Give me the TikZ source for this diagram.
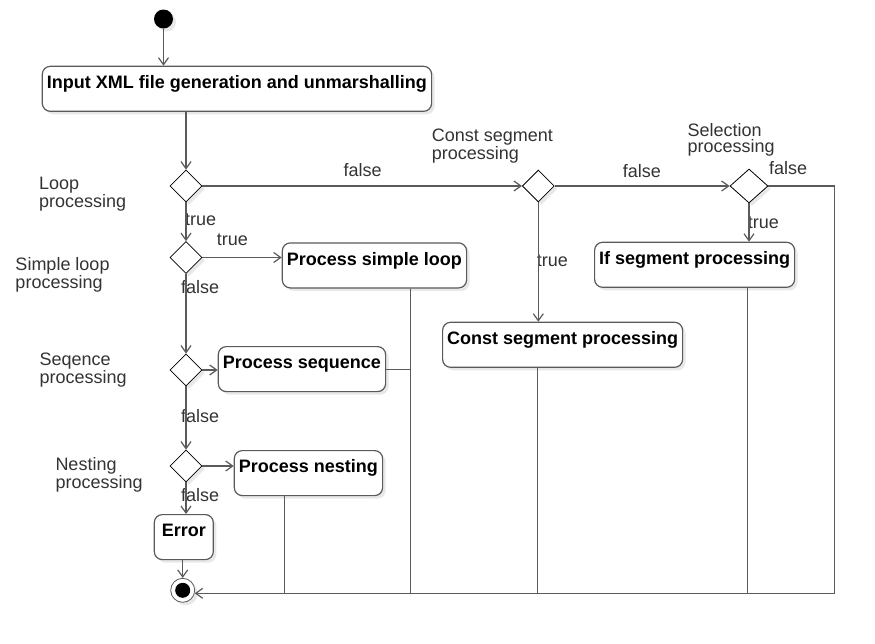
\documentclass[tikz,border=0pt]{standalone}
\usepackage{fontspec}
\setmainfont{Liberation Sans}
\usetikzlibrary{arrows.meta,shapes.geometric,shadows}
\definecolor{ln}{HTML}{5A5A5A}
\definecolor{tx}{HTML}{333333}
\begin{document}
\begin{tikzpicture}[x=1pt,y=-1pt,
  shd/.style={drop shadow={shadow xshift=3pt,shadow yshift=-3pt,fill=black!9,opacity=1}},
  box/.style={draw=ln,line width=1.2pt,rounded corners=8pt,fill=white,shd,
    font=\fontsize{18}{20}\selectfont\bfseries,inner xsep=0pt,inner ysep=0pt,
    text height=22.3pt,text depth=22.7pt,anchor=north west},
  dec/.style={diamond,draw=black,line width=0.8pt,fill=white,inner sep=0pt,
    minimum width=32pt,minimum height=32pt,shd},
  lbl/.style={text=tx,align=left,anchor=base west,inner sep=0pt,
    font=\fontsize{18}{16}\selectfont},
  flow/.style={draw=ln,line width=1.2pt},
  arr/.style={flow,-{Straight Barb[length=7pt,width=10pt]}}
]
\useasboundingbox (0,0) rectangle (875,643);

% start / end
\node[circle,fill=black,minimum size=19pt,inner sep=0pt,shd] (start) at (163.5,19) {};
\node[circle,draw=ln,line width=0.8pt,fill=white,minimum size=24pt,inner sep=0pt,shd] (final) at (182.7,590.3) {};
\node[circle,fill=black,minimum size=15pt,inner sep=0pt] (finaldot) at (final) {};

% boxes
\node[box,minimum width=389.3pt] (in) at (41.7,65.7) {Input XML file generation and unmarshalling};
\node[box,minimum width=184.3pt] (sl) at (281.7,242.3) {Process simple loop};
\node[box,minimum width=167.3pt] (seq) at (217.7,346) {Process sequence};
\node[box,minimum width=148.3pt] (nest) at (233.7,450) {Process nesting};
\node[box,minimum width=59pt] (err) at (153.7,514) {Error};
\node[box,minimum width=240pt] (cb) at (442,321.7) {Const segment processing};
\node[box,minimum width=200pt] (ifb) at (594,241.7) {If segment processing};

% decisions
\node[dec] (d1) at (186,186) {};
\node[dec] (d4) at (186,257.5) {};
\node[dec] (d5) at (186,370) {};
\node[dec] (d6) at (186,466) {};
\node[dec] (d2) at (538.3,186) {};
\node[dec,minimum width=38pt,minimum height=34pt] (d3) at (749,186) {};

% side labels (anchor = baseline of last line)
\node[lbl] (l1) at (39,207.7) {Loop\\processing};
\node[lbl] (l2) at (15.3,288) {Simple loop\\processing};
\node[lbl] (l3) at (39.3,383.5) {Seqence\\processing};
\node[lbl] (l4) at (55.3,488) {Nesting\\processing};
\node[lbl] (l5) at (431.7,159.5) {Const segment\\processing};
\node[lbl] (l6) at (687.3,152) {Selection\\processing};

% edge labels
\node[lbl] (e1) at (343.3,176.7) {false};
\node[lbl] (e2) at (622.7,177.7) {false};
\node[lbl] (e3) at (769,174.3) {false};
\node[lbl] (e4) at (747.7,228.3) {true};
\node[lbl] (e5) at (536.7,266.7) {true};
\node[lbl] (e6) at (185,225) {true};
\node[lbl] (e7) at (216.7,245) {true};
\node[lbl] (e8) at (181,293.3) {false};
\node[lbl] (e9) at (181,422.7) {false};
\node[lbl] (e10) at (181,501.7) {false};

% connectors
\draw[arr] (start) -- (start |- in.north);
\draw[arr] (in.south -| d1.north) -- (d1.north);
\draw[arr] (d1.east) -- (d2.west);
\draw[arr] (d2.east) -- (d3.west);
\draw[arr] (d3.east) -- ++(66,0) |- (final.-14);
\draw[arr] (d3.south) -- (d3.south |- ifb.north);
\draw[arr] (d2.south) -- (d2.south |- cb.north);
\draw[arr] (d1.south) -- (d4.north);
\draw[arr] (d4.east) -- (d4.east -| sl.west);
\draw[arr] (d4.south) -- (d5.north);
\draw[arr] (d5.east) -- (d5.east -| seq.west);
\draw[arr] (d5.south) -- (d6.north);
\draw[arr] (d6.east) -- (d6.east -| nest.west);
\draw[arr] (d6.south) -- (d6.south |- err.north);
\draw[arr] (err.south -| final.north) -- (final.north);

\coordinate (slx) at ([xshift=36pt]sl.south);
\coordinate (ifx) at ([xshift=53pt]ifb.south);
\coordinate (cbx) at ([xshift=-25pt]cb.south);
\coordinate (nsx) at ([xshift=-24pt]nest.south);
\draw[flow] (slx) -- (slx |- final.-14);
\draw[flow] (seq.east) -- (seq.east -| slx);
\draw[flow] (ifx) -- (ifx |- final.-14);
\draw[flow] (cbx) -- (cbx |- final.-14);
\draw[flow] (nsx) -- (nsx |- final.-14);
\end{tikzpicture}
\end{document}
